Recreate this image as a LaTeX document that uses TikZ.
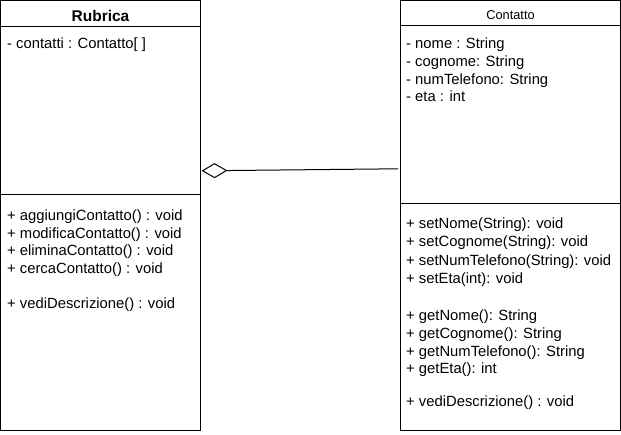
\documentclass[tikz,border=0pt]{standalone}
\usepackage{fontspec}
\setmainfont{Liberation Sans}
\usetikzlibrary{arrows.meta}
\begin{document}
\begin{tikzpicture}[x=1pt,y=-1pt,
  box/.style={draw=black,line width=1pt,anchor=north west,inner sep=0pt,outer sep=0pt},
  txt/.style={anchor=base west,inner sep=0pt,font=\fontsize{14.8}{16}\selectfont},
  sep/.style={draw=black,line width=1pt}]
\useasboundingbox (0,0) rectangle (621,434);
% Rubrica
\node[box,minimum width=200pt,minimum height=429.5pt] (rub) at (0.5,0.5) {};
\node[anchor=base,inner sep=0pt,font=\fontsize{15.5}{18}\selectfont\bfseries] (rubt) at (100.5,21.5) {Rubrica};
\coordinate (rs1) at (0.5,26);
\coordinate (rs2) at (0.5,194.5);
\draw[sep] (rs1) -- (rs1 -| rub.east);
\draw[sep] (rs2) -- (rs2 -| rub.east);
\node[txt] (ra1) at (7,48.5) {- contatti : Contatto[ ]};
\foreach \t/\y [count=\i] in {{+ aggiungiContatto() : void}/220,{+ modificaContatto() : void}/238,{+ eliminaContatto() : void}/255.5,{+ cercaContatto() : void}/273,{+ vediDescrizione() : void}/308.5}
  \node[txt] (rm\i) at (7,\y) {\t};
% Contatto
\node[box,minimum width=219.5pt,minimum height=429.5pt] (con) at (400.5,0.5) {};
\node[anchor=base,inner sep=0pt,font=\fontsize{12.8}{15}\selectfont] (cont) at (510.5,19) {Contatto};
\coordinate (cs1) at (400.5,25.5);
\coordinate (cs2) at (400.5,203.5);
\draw[sep] (cs1) -- (cs1 -| con.east);
\draw[sep] (cs2) -- (cs2 -| con.east);
\foreach \t/\y [count=\i] in {{- nome : String}/48,{- cognome: String}/66,{- numTelefono: String}/84,{- eta : int}/101.5}
  \node[txt] (ca\i) at (406,\y) {\t};
\foreach \t/\y [count=\i] in {{+ setNome(String): void}/228,{+ setCognome(String): void}/246.5,{+ setNumTelefono(String): void}/265,{+ setEta(int): void}/283,{+ getNome(): String}/320,{+ getCognome(): String}/338,{+ getNumTelefono(): String}/356.5,{+ getEta(): int}/373.5,{+ vediDescrizione() : void}/406.5}
  \node[txt] (cm\i) at (406,\y) {\t};
% aggregation
\coordinate (ag1) at (201.5,170.8);
\coordinate (ag2) at (398,168.8);
\draw[line width=1pt,-{Diamond[open,length=26pt,width=15pt,line width=1pt]}] (ag2) -- (ag1);
\end{tikzpicture}
\end{document}
